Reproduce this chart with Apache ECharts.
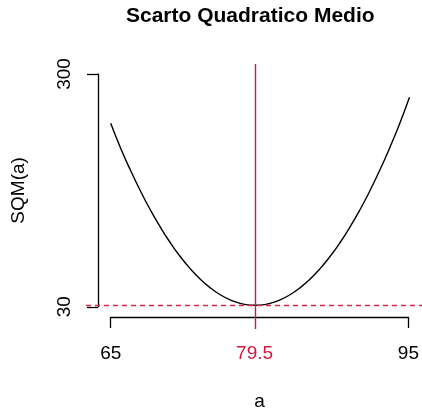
<!DOCTYPE html>
<html>
<head>
<meta charset="utf-8">
<script src="https://cdn.jsdelivr.net/npm/echarts@6/dist/echarts.min.js"></script>
<style>
  html, body { margin: 0; padding: 0; background: #fff; }
  #chart { width: 422px; height: 408px; }
</style>
</head>
<body>
<div id="chart"></div>
<script>
// Mean squared deviation SQM(a) as a function of the reference value a
const aValues = [65, 66, 67, 68, 69, 70, 71, 72, 73, 74, 75, 76, 77, 78, 79, 79.5,
                 80, 81, 82, 83, 84, 85, 86, 87, 88, 89, 90, 91, 92, 93, 94, 95];
const sqmValues = [243, 214, 188, 164, 142, 122, 104, 88, 74, 62, 52, 44, 38, 34, 32, 31.8,
                   32, 34, 38, 44, 52, 62, 74, 88, 104, 122, 142, 164, 188, 214, 242, 273];
const xTickValues = [65, 95];
const xTickLabels = [65, 79.5, 95];
const yTickLabels = [30, 300];
const aMin = 79.5;          // value of a where SQM is smallest (the mean)

const RED = '#cc1a3c';
const DASH_RED = '#dc2a4c';
const FONT = 'Liberation Sans, Arial, Helvetica, sans-serif';

const sqmMin = Math.min.apply(null, sqmValues);
const curve = aValues.map((a, i) => [a, sqmValues[i]]);

const chart = echarts.init(document.getElementById('chart'), null, { renderer: 'canvas' });

chart.setOption({
  animation: false,
  backgroundColor: '#fff',
  textStyle: { fontFamily: FONT },
  graphic: [{
    type: 'text',
    left: 126,
    top: 6,
    style: { text: 'Scarto Quadratico Medio', font: 'bold 21px ' + FONT, fill: '#000' }
  }],
  grid: [
    // plot region
    { left: 86, right: 0, top: 64, bottom: 79 },
    // vertical axis band
    { left: 98, width: 10, top: 74, height: 232.8 },
    // horizontal axis band
    { left: 110.7, width: 298.8, top: 316.7, height: 1 }
  ],
  xAxis: [
    { gridIndex: 0, type: 'value', min: 62.52, max: 96.255, show: false },
    { gridIndex: 1, type: 'value', min: 0, max: 1, show: false },
    {
      gridIndex: 2, type: 'value', min: 65, max: 95,
      name: 'a', nameLocation: 'middle', nameGap: 75,
      nameTextStyle: { fontSize: 19, color: '#000', fontFamily: FONT },
      splitLine: { show: false },
      axisLine: { show: true, lineStyle: { color: '#000', width: 1.3 } },
      axisTick: { show: true, length: 11, customValues: xTickValues, lineStyle: { color: '#000', width: 1.3 } },
      axisLabel: {
        show: true, margin: 27, fontSize: 19, fontFamily: FONT,
        customValues: xTickLabels,
        formatter: v => (v === aMin ? '{m|' + v + '}' : '' + v),
        color: '#000',
        rich: { m: { color: RED, fontSize: 19, fontFamily: FONT } }
      }
    }
  ],
  yAxis: [
    { gridIndex: 0, type: 'value', min: 4.25, max: 311.6, show: false },
    {
      gridIndex: 1, type: 'value', min: 30, max: 300, interval: 270,
      name: 'SQM(a)', nameLocation: 'middle', nameGap: 70, nameRotate: 90,
      nameTextStyle: { fontSize: 19, color: '#000', fontFamily: FONT },
      splitLine: { show: false },
      axisLine: { show: true, lineStyle: { color: '#000', width: 1.3 } },
      axisTick: { show: true, length: 11, lineStyle: { color: '#000', width: 1.3 } },
      axisLabel: {
        show: true, rotate: 90, margin: 24, fontSize: 19, color: '#000', fontFamily: FONT,
        customValues: yTickLabels
      }
    },
    { gridIndex: 2, type: 'value', min: 0, max: 1, show: false }
  ],
  series: [{
    type: 'line',
    xAxisIndex: 0,
    yAxisIndex: 0,
    data: curve,
    smooth: true,
    showSymbol: false,
    symbol: 'none',
    lineStyle: { color: '#000', width: 1.4 },
    z: 3,
    markLine: {
      silent: true,
      symbol: 'none',
      label: { show: false },
      emphasis: { disabled: true },
      lineStyle: { color: RED, width: 1.4, type: 'solid', opacity: 1 },
      data: [
        { xAxis: aMin },
        { yAxis: sqmMin, lineStyle: { color: DASH_RED, width: 1.3, type: [5, 4], opacity: 1 } }
      ]
    }
  }]
});
</script>
</body>
</html>
